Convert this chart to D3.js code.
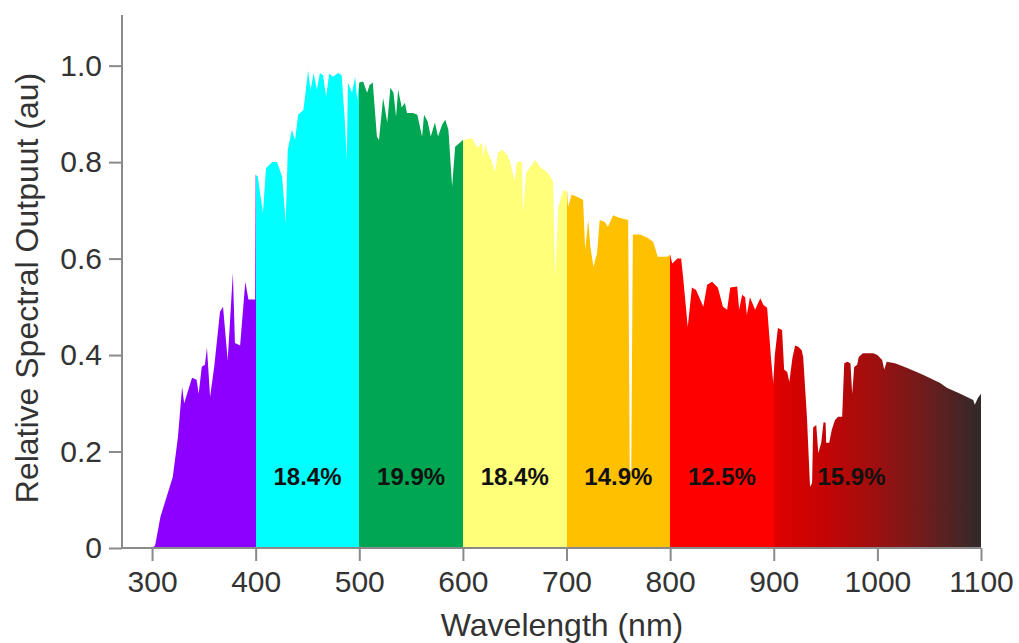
<!DOCTYPE html>
<html>
<head>
<meta charset="utf-8">
<script src="https://cdn.jsdelivr.net/npm/d3@7"></script>
<style>
  body { margin: 0; background: #fff; }
  svg { display: block; }
  .axis path, .axis line { stroke: #8a8a8a; stroke-width: 2; }
  .axis text { font-family: 'Liberation Sans', Arial, sans-serif; font-size: 30px; fill: #333; }
  .title { font-family: 'Liberation Sans', Arial, sans-serif; font-size: 32px; fill: #333; }
  .pct { font-family: 'Liberation Sans', Arial, sans-serif; font-size: 24px; font-weight: bold; fill: #111; }
</style>
</head>
<body>
<svg width="1019" height="643"></svg>
<script>
// spectrum (nm, relative output)
var wavelengths = [300, 303, 308, 320, 325, 329, 331, 338.6, 343, 345, 348, 351, 353, 356, 360, 365.6, 368.5, 373, 378, 380, 385, 390, 393, 399.5,
  400, 402, 407, 410, 416, 420.6, 425.5, 429, 431, 435, 438, 441, 446, 447.7, 450.6, 453, 456, 459, 462, 465, 468, 471, 474.7, 479.5, 483, 486, 488, 489, 493, 496, 498,
  500, 503.7, 507.5, 510, 513, 517, 519, 523, 527, 530, 533, 535.5, 537.5, 541, 544, 546, 552, 556, 560.6, 562.5, 566, 569, 573, 576, 580, 583, 586, 589.6, 592.5, 597,
  600, 602, 607, 610, 614, 618.5, 619.5, 621.5, 624, 628, 631, 634, 638, 642.7, 645.6, 650, 652, 657, 658, 661, 665, 669.7, 674.5, 682, 687, 689, 692, 697,
  700.6, 701.5, 705, 710, 716, 718, 721, 723, 726, 729.5, 732, 737, 740, 745, 750, 759.5, 761, 762.5, 764, 771, 778, 783.6, 788, 797,
  800, 802, 807, 810.6, 812.5, 817, 821, 825, 829, 832, 835.7, 840.5, 846, 851, 855, 858, 864.7, 866.6, 869.5, 872.4, 874, 877, 882, 887, 890, 893.6, 897.5,
  899.5, 901, 904, 908, 910, 913, 915, 918, 920.6, 923.6, 927, 928.4, 932, 935, 937, 938, 941, 943, 945.8, 948, 950, 950.6, 953.5, 956, 959, 962, 966, 968, 971, 974,
  975.7, 977.6, 980.5, 982, 986, 996, 1000, 1004.6, 1006.6, 1009, 1017, 1028.8, 1044, 1060.6, 1067, 1080, 1092.5, 1094, 1097, 1100];
var outputs = [0, 0.005, 0.064, 0.147, 0.23, 0.334, 0.30, 0.353, 0.349, 0.32, 0.376, 0.38, 0.415, 0.313, 0.376, 0.49, 0.50, 0.39, 0.57, 0.425, 0.42, 0.552, 0.515, 0.515,
  0.774, 0.77, 0.695, 0.788, 0.80, 0.80, 0.77, 0.676, 0.826, 0.867, 0.846, 0.898, 0.908, 0.936, 0.99, 0.95, 0.985, 0.95, 0.985, 0.98, 0.936, 0.983, 0.977, 0.985, 0.98, 0.888, 0.805, 0.965, 0.944, 0.977, 0.93,
  0.965, 0.967, 0.944, 0.96, 0.965, 0.853, 0.846, 0.933, 0.882, 0.954, 0.944, 0.894, 0.95, 0.913, 0.923, 0.902, 0.902, 0.898, 0.853, 0.898, 0.884, 0.853, 0.882, 0.853, 0.878, 0.888, 0.867, 0.749, 0.832, 0.84,
  0.846, 0.846, 0.85, 0.846, 0.83, 0.84, 0.81, 0.836, 0.82, 0.80, 0.78, 0.82, 0.826, 0.815, 0.80, 0.76, 0.80, 0.80, 0.695, 0.778, 0.79, 0.805, 0.79, 0.778, 0.76, 0.562, 0.707, 0.742,
  0.739, 0.707, 0.733, 0.728, 0.722, 0.618, 0.68, 0.625, 0.583, 0.612, 0.68, 0.676, 0.666, 0.69, 0.685, 0.68, 0.16, 0.16, 0.65, 0.65, 0.643, 0.635, 0.604, 0.604,
  0.608, 0.59, 0.60, 0.60, 0.562, 0.458, 0.54, 0.535, 0.515, 0.50, 0.546, 0.552, 0.54, 0.50, 0.494, 0.54, 0.542, 0.494, 0.525, 0.52, 0.483, 0.52, 0.494, 0.518, 0.504, 0.498, 0.39,
  0.342, 0.40, 0.456, 0.452, 0.37, 0.365, 0.344, 0.394, 0.42, 0.417, 0.41, 0.396, 0.272, 0.127, 0.135, 0.25, 0.255, 0.197, 0.218, 0.26, 0.26, 0.218, 0.218, 0.245, 0.265, 0.272, 0.272, 0.383, 0.386, 0.383,
  0.32, 0.375, 0.38, 0.396, 0.404, 0.404, 0.40, 0.39, 0.37, 0.386, 0.383, 0.373, 0.359, 0.342, 0.332, 0.32, 0.307, 0.297, 0.311, 0.32];

// colour bands
var bandEdges = [300, 400, 500, 600, 700, 800, 900];
var bandColors = ['#8c00ff', '#00ffff', '#00a651', '#ffff7a', '#ffc000', '#ff0000'];
// smooth fade for the 900-1100 band
var fadeStops = [900, 950, 1000, 1050, 1100];
var fadeColors = ['#e00000', '#c40404', '#9c1010', '#6a1d1d', '#302a2a'];

var pctLabels = ['18.4%', '19.9%', '18.4%', '14.9%', '12.5%', '15.9%'];
var pctAt = [450, 550, 650, 750, 850, 975];

var xTicks = [300, 400, 500, 600, 700, 800, 900, 1000, 1100];
var yTicks = [0, 0.2, 0.4, 0.6, 0.8, 1.0];

var svg = d3.select('svg');

var x = d3.scaleLinear().domain([271, 1100]).range([122, 981]);
var y = d3.scaleLinear().domain([0, 1.105]).range([548, 15]);

var data = wavelengths.map(function(w, i) { return {w: w, v: outputs[i]}; });

// gradient with hard stops between bands
var grad = svg.append('defs').append('linearGradient')
    .attr('id', 'spectrum')
    .attr('gradientUnits', 'userSpaceOnUse')
    .attr('x1', x(300)).attr('x2', x(1100))
    .attr('y1', 0).attr('y2', 0);

var off = d3.scaleLinear().domain([300, 1100]).range([0, 1]);
bandColors.forEach(function(c, i) {
    grad.append('stop').attr('offset', off(bandEdges[i])).attr('stop-color', c);
    grad.append('stop').attr('offset', off(bandEdges[i + 1])).attr('stop-color', c);
});
fadeStops.forEach(function(s, i) {
    grad.append('stop').attr('offset', off(s)).attr('stop-color', fadeColors[i]);
});

var area = d3.area()
    .x(function(d) { return x(d.w); })
    .y0(y(0))
    .y1(function(d) { return y(d.v); });

svg.append('path')
    .datum(data)
    .attr('d', area)
    .attr('fill', 'url(#spectrum)');

// axes
svg.append('g')
    .attr('class', 'x axis')
    .attr('transform', 'translate(0,' + y(0) + ')')
    .call(d3.axisBottom(x).tickValues(xTicks).tickSize(13).tickSizeOuter(0).tickPadding(10)
        .tickFormat(d3.format('d')));

svg.append('g')
    .attr('class', 'y axis')
    .attr('transform', 'translate(' + x(271) + ',0)')
    .call(d3.axisLeft(y).tickValues(yTicks).tickSize(13).tickSizeOuter(0).tickPadding(7)
        .tickFormat(function(d) { return d === 0 ? '0' : d3.format('.1f')(d); }));

svg.selectAll('.axis .domain').attr('d', function() {
    return d3.select(this.parentNode).classed('x') ?
        'M' + x(271) + ',0H' + x(1100) : 'M0,' + y(0) + 'V' + y(1.105);
});

// percentage labels
svg.selectAll('.pct')
    .data(pctLabels)
    .enter()
    .append('text')
    .attr('class', 'pct')
    .attr('x', function(d, i) { return x(pctAt[i]); })
    .attr('y', 485)
    .attr('text-anchor', 'middle')
    .text(function(d) { return d; });

svg.append('text')
    .attr('class', 'title')
    .attr('text-anchor', 'middle')
    .attr('transform', 'translate(38,288) rotate(-90)')
    .text('Relative Spectral Outpuut (au)');

svg.append('text')
    .attr('class', 'title')
    .attr('text-anchor', 'middle')
    .attr('x', 562)
    .attr('y', 636)
    .text('Wavelength (nm)');
</script>
</body>
</html>
